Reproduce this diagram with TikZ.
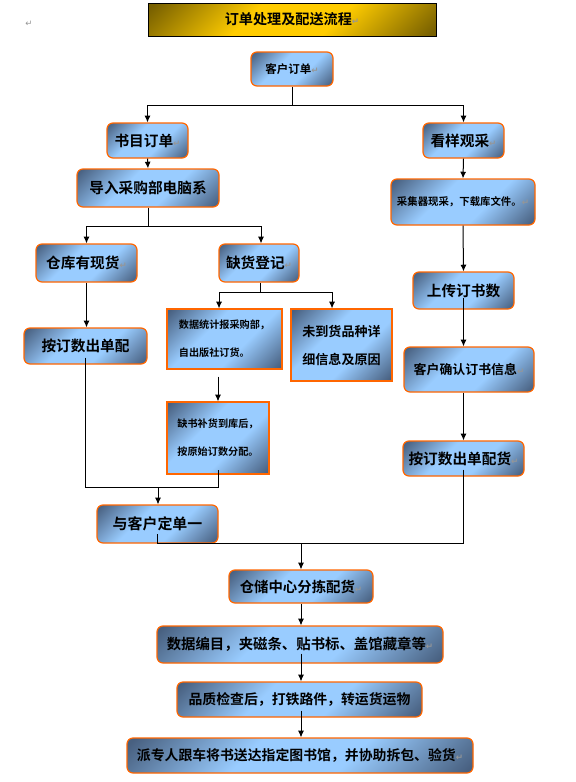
\documentclass[tikz,border=0pt]{standalone}
\usepackage{fontspec}
\usetikzlibrary{arrows.meta,calc}
\newfontfamily\cjk{Noto Sans CJK SC}[BoldFont={Noto Sans CJK SC Bold}]
\newfontfamily\dejavu{DejaVu Sans}
\definecolor{dkb}{RGB}{72,96,128}
\definecolor{lb}{RGB}{153,204,255}
\definecolor{dkg}{RGB}{120,96,0}
\definecolor{gd}{RGB}{255,204,0}
\definecolor{brd}{RGB}{255,102,0}
\definecolor{pmk}{RGB}{150,150,150}
\pgfdeclarehorizontalshading{bluesh}{100bp}{color(0bp)=(dkb); color(16bp)=(dkb); color(40bp)=(lb); color(60bp)=(lb); color(84bp)=(dkb); color(100bp)=(dkb)}
\pgfdeclarehorizontalshading{goldsh}{100bp}{color(0bp)=(dkg); color(16bp)=(dkg); color(40bp)=(gd); color(60bp)=(gd); color(84bp)=(dkg); color(100bp)=(dkg)}
\newcommand\retm{{\dejavu\fontsize{6.5}{6.5}\selectfont\textcolor{pmk}{↵}}}
\newcommand\bx[7]{\node[#6, minimum width={(#4-#2)*0.75pt}, minimum height={(#5-#3)*0.75pt}] (#1) at ({(#2+#4)/2},{(#3+#5)/2}) {#7};}
\tikzset{
  box/.style={draw=brd, line width=0.9pt, shade, shading=bluesh, shading angle=-45, inner sep=0pt, text=black},
  rbox/.style={box, rounded corners=4.5pt},
  fs/.style={font=\cjk\bfseries\fontsize{#1}{13}\selectfont},
  twol/.style={font=\cjk\bfseries\fontsize{#1}{21}\selectfont, align=left},
  arr/.style={-{Latex[length=5pt,width=4.5pt]}, line width=0.75pt},
  ln/.style={line width=0.75pt}
}
\begin{document}
\begin{tikzpicture}[x=0.75pt,y=-0.75pt]
\fill[white] (0,0) rectangle (575,782);
\useasboundingbox (0,0) rectangle (575,782);
% paragraph mark
\node[inner sep=0pt] (pm) at (29,24) {\retm};
% title
\bx{title}{148}{3}{436}{36}{draw=black, line width=0.75pt, shade, shading=goldsh, shading angle=-45, inner sep=0pt, fs=10.6}{订单处理及配送流程\retm}
% boxes
\bx{kehu}{251}{52}{333}{86}{rbox, fs=8.6}{客户订单\retm}
\bx{shumu}{107}{123}{188}{158}{rbox, fs=11}{书目订单\retm}
\bx{kanyang}{423}{123}{504}{158}{rbox, fs=11}{看样观采\retm}
\bx{daoru}{77}{169}{219}{207}{rbox, fs=11}{导入采购部电脑系}
\bx{caiji}{391}{179}{535}{225}{rbox, fs=7.8}{采集器现采，下载库文件。\retm}
\bx{cangku}{36}{244}{137}{282}{rbox, fs=11}{仓库有现货\retm}
\bx{quehuo}{219}{244}{299}{282}{rbox, fs=11}{缺货登记\retm}
\bx{shangchuan}{413}{272}{514}{309}{rbox, fs=11}{上传订书数}
\bx{tongji}{167}{309}{282}{369}{box, twol=7.6}{数据统计报采购部，\\自出版社订货。}
\bx{weidao}{291}{309}{392}{381}{box, twol=9.8}{未到货品种详\\细信息及原因}
\bx{anding}{24}{328}{147}{364}{rbox, fs=11}{按订数出单配}
\bx{kehuqr}{404}{347}{534}{392}{rbox, fs=9.7}{客户确认订书信息\retm}
\bx{buhuo}{167}{402}{269}{474}{box, twol=7.6}{缺书补货到库后，\\按原始订数分配。}
\bx{anpei}{403}{441}{524}{476}{rbox, fs=11}{按订数出单配货\retm}
\bx{yu}{97}{505}{218}{543}{rbox, fs=11.2}{与客户定单一}
\bx{cangchu}{229}{570}{373}{603}{rbox, fs=10.8}{仓储中心分拣配货\retm}
\bx{bianmu}{157}{626}{443}{663}{rbox, fs=10.8}{数据编目，夹磁条、贴书标、盖馆藏章等\retm}
\bx{pinzhi}{177}{682}{422}{717}{rbox, fs=10.4}{品质检查后，打铁路件，转运货运物}
\bx{pai}{127}{738}{473}{773}{rbox, fs=10.4}{派专人跟车将书送达指定图书馆，并协助拆包、验货\retm}
% connectors
\coordinate (j1) at (292,105);
\draw[ln] (kehu.south) -- (j1);
\draw[arr] (j1) -| (shumu.north);
\draw[arr] (j1) -| (kanyang.north);
\draw[arr] (shumu.south) -- (daoru.north);
\coordinate (j2) at (148,226);
\draw[ln] (daoru.south -| j2) -- (j2);
\draw[arr] (j2) -| (cangku.north);
\draw[arr] (j2) -| ([xshift=1.5pt]quehuo.north);
\draw[arr] (cangku.south) -- (cangku.south |- anding.north);
\coordinate (j3) at (260,292);
\draw[ln] (quehuo.south -| j3) -- (j3);
\draw[arr] (j3) -| ([xshift=-4.1pt]tongji.north);
\draw[arr] (j3) -| ([xshift=-7.1pt]weidao.north);
\coordinate (c1) at ($(tongji.south -| buhuo.north)+(0,7)$);
\draw[arr] (c1) -- (buhuo.north);
\coordinate (j4) at (158,487);
\draw[ln] ($(anding.south)+(0,-7)$) -- (anding.south |- j4) -- (buhuo.south |- j4) -- ($(buhuo.south)+(0,-5)$);
\draw[arr] (j4) -- (j4 |- yu.north);
\draw[arr] (kanyang.south) -- (caiji.north);
\draw[arr] (caiji.south) -- (shangchuan.north);
\draw[arr] ($(shangchuan.south)+(0,-12)$) -- (shangchuan.south |- kehuqr.north);
\draw[arr] (kehuqr.south -| shangchuan) -- (shangchuan |- anpei.north);
\coordinate (j5) at (301,543);
\draw[ln] ($(anpei.south)+(0,-7)$) -- (anpei.south |- j5) -- (yu.south |- j5) -- ($(yu.south)+(0,-10)$);
\draw[arr] (j5) -- (j5 |- cangchu.north);
\draw[arr] (cangchu.south) -- (cangchu.south |- bianmu.north);
\draw[arr] ($(bianmu.south -| cangchu)+(0,-10)$) -- (cangchu |- pinzhi.north);
\draw[arr] ($(pinzhi.south -| cangchu)+(0,-7)$) -- (cangchu |- pai.north);
\end{tikzpicture}
\end{document}
